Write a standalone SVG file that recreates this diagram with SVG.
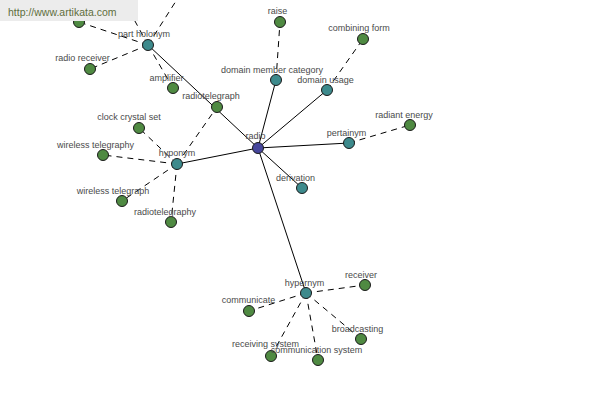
<svg xmlns="http://www.w3.org/2000/svg" width="600" height="400" viewBox="0 0 600 400">
<style>
.bg{fill:#ffffff}
.solid{stroke:#000;stroke-width:1;fill:none}
.dash{stroke:#000;stroke-width:1;fill:none;stroke-dasharray:6,5}
.n circle{stroke:#1a1a1a;stroke-width:1}
.leaf circle{fill:#4f8a42}
.rel circle{fill:#3d8a8c}
.root circle{fill:#46469c}
text{font-family:"Liberation Sans",Arial,sans-serif;font-size:9px;fill:#4a4a4a;text-anchor:middle}
.banner{fill:#ececec}
.url{font-size:10.5px;fill:#5f6e3c;text-anchor:start}
</style>
<rect class="bg" x="0" y="0" width="600" height="400"/>
<g id="connectors">
<line class="solid" x1="258" y1="148" x2="148" y2="45"/>
<line class="solid" x1="258" y1="148" x2="177" y2="164"/>
<line class="solid" x1="258" y1="148" x2="276" y2="80"/>
<line class="solid" x1="258" y1="148" x2="327" y2="90"/>
<line class="solid" x1="258" y1="148" x2="349" y2="143"/>
<line class="solid" x1="258" y1="148" x2="302" y2="188"/>
<line class="solid" x1="258" y1="148" x2="306" y2="293"/>
<line class="dash" x1="148" y1="45" x2="79" y2="22"/>
<line class="dash" x1="148" y1="45" x2="90" y2="69"/>
<line class="dash" x1="148" y1="45" x2="173" y2="88"/>
<line class="dash" x1="148" y1="45" x2="118" y2="-10"/>
<line class="dash" x1="148" y1="45" x2="183" y2="-10"/>
<line class="dash" x1="177" y1="164" x2="217" y2="107"/>
<line class="dash" x1="177" y1="164" x2="139" y2="128"/>
<line class="dash" x1="177" y1="164" x2="103" y2="155"/>
<line class="dash" x1="177" y1="164" x2="122" y2="201"/>
<line class="dash" x1="177" y1="164" x2="171" y2="222"/>
<line class="dash" x1="276" y1="80" x2="280" y2="22"/>
<line class="dash" x1="327" y1="90" x2="363" y2="39"/>
<line class="dash" x1="349" y1="143" x2="410" y2="125"/>
<line class="dash" x1="306" y1="293" x2="365" y2="285"/>
<line class="dash" x1="306" y1="293" x2="249" y2="311"/>
<line class="dash" x1="306" y1="293" x2="361" y2="339"/>
<line class="dash" x1="306" y1="293" x2="271" y2="356"/>
<line class="dash" x1="306" y1="293" x2="318" y2="360"/>
</g>
<g id="n-hidden" class="n leaf"><circle cx="79" cy="22" r="5.5"/></g>
<g id="n-radio-receiver" class="n leaf"><circle cx="90" cy="69" r="5.5"/><text x="82.5" y="60.5">radio receiver</text></g>
<g id="n-amplifier" class="n leaf"><circle cx="173" cy="88" r="5.5"/><text x="166.5" y="80.5">amplifier</text></g>
<g id="n-radiotelegraph" class="n leaf"><circle cx="217" cy="107" r="5.5"/><text x="211" y="99">radiotelegraph</text></g>
<g id="n-clock-crystal-set" class="n leaf"><circle cx="139" cy="128" r="5.5"/><text x="129" y="120">clock crystal set</text></g>
<g id="n-wireless-telegraphy" class="n leaf"><circle cx="103" cy="155" r="5.5"/><text x="95.5" y="147.5">wireless telegraphy</text></g>
<g id="n-wireless-telegraph" class="n leaf"><circle cx="122" cy="201" r="5.5"/><text x="113" y="193.5">wireless telegraph</text></g>
<g id="n-radiotelegraphy" class="n leaf"><circle cx="171" cy="222" r="5.5"/><text x="165" y="214.5">radiotelegraphy</text></g>
<g id="n-raise" class="n leaf"><circle cx="280" cy="22" r="5.5"/><text x="277.5" y="13.5">raise</text></g>
<g id="n-combining-form" class="n leaf"><circle cx="363" cy="39" r="5.5"/><text x="359" y="31">combining form</text></g>
<g id="n-radiant-energy" class="n leaf"><circle cx="410" cy="125" r="5.5"/><text x="404" y="117.5">radiant energy</text></g>
<g id="n-receiver" class="n leaf"><circle cx="365" cy="285" r="5.5"/><text x="361" y="277.5">receiver</text></g>
<g id="n-communicate" class="n leaf"><circle cx="249" cy="311" r="5.5"/><text x="248.5" y="302.5">communicate</text></g>
<g id="n-broadcasting" class="n leaf"><circle cx="361" cy="339" r="5.5"/><text x="357.5" y="331.5">broadcasting</text></g>
<g id="n-receiving-system" class="n leaf"><circle cx="271" cy="356" r="5.5"/><text x="265.5" y="346.5">receiving system</text></g>
<g id="n-communication-system" class="n leaf"><circle cx="318" cy="360" r="5.5"/><text x="316.5" y="352.5">communication system</text></g>
<g id="n-part-holonym" class="n rel"><circle cx="148" cy="45" r="5.5"/><text x="144" y="36.5">part holonym</text></g>
<g id="n-hyponym" class="n rel"><circle cx="177" cy="164" r="5.5"/><text x="177" y="156">hyponym</text></g>
<g id="n-domain-member-category" class="n rel"><circle cx="276" cy="80" r="5.5"/><text x="272" y="72.5">domain member category</text></g>
<g id="n-domain-usage" class="n rel"><circle cx="327" cy="90" r="5.5"/><text x="325.5" y="82.5">domain usage</text></g>
<g id="n-pertainym" class="n rel"><circle cx="349" cy="143" r="5.5"/><text x="346.5" y="136">pertainym</text></g>
<g id="n-derivation" class="n rel"><circle cx="302" cy="188" r="5.5"/><text x="295.5" y="180.5">derivation</text></g>
<g id="n-hypernym" class="n rel"><circle cx="306" cy="293" r="5.5"/><text x="304.5" y="286">hypernym</text></g>
<g id="n-radio" class="n root"><circle cx="258" cy="148" r="5.5"/><text x="255.5" y="138.5">radio</text></g>
<g id="banner"><rect class="banner" x="0" y="0" width="138" height="21"/><text class="url" x="8" y="15.5">http://www.artikata.com</text></g>
</svg>
